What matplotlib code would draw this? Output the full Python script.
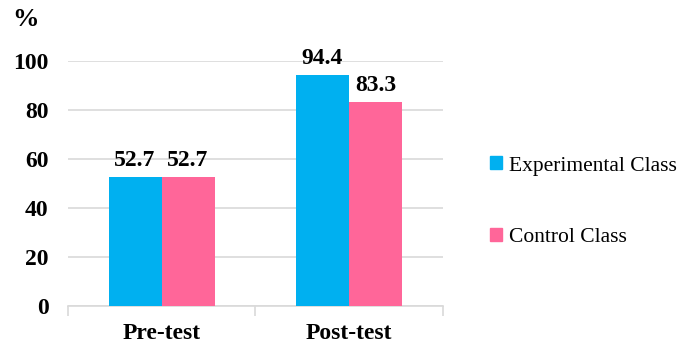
import matplotlib.pyplot as plt
import numpy as np
from matplotlib.patches import Patch

plt.rcParams['font.family'] = ['Liberation Serif', 'DejaVu Serif']

# data
tests = ['Pre-test', 'Post-test']
experimental = [52.7, 94.4]
control = [52.7, 83.3]
series_names = ['Experimental Class', 'Control Class']
colors = ['#00B0F0', '#FF6699']

fig = plt.figure(figsize=(6.79, 3.47), dpi=100)
ax = fig.add_axes([0.100, 0.118, 0.552, 0.706])

x = np.arange(len(tests))
w = 0.283
b1 = ax.bar(x - w / 2, experimental, w, color=colors[0], zorder=3)
b2 = ax.bar(x + w / 2, control, w, color=colors[1], zorder=3)

for bars in (b1, b2):
    for r in bars:
        ax.text(r.get_x() + r.get_width() / 2, r.get_height() + 2.5,
                f'{r.get_height():.1f}', ha='center', va='bottom',
                fontsize=17, fontweight='bold')

ax.set_xlim(-0.5, 1.5)
ax.set_ylim(0, 100)
ax.set_yticks(range(0, 101, 20))
ax.yaxis.grid(True, color='#D9D9D9', linewidth=1.2, zorder=0)
ax.tick_params(axis='y', length=0, pad=14, labelsize=17)
for lab in ax.get_yticklabels():
    lab.set_fontweight('bold')

# category labels, with the boundary ticks
ax.set_xticks([-0.5, 0.5, 1.5])
ax.set_xticklabels([])
ax.tick_params(axis='x', length=7, color='#D9D9D9', width=1.2)
ax.set_xticks(x, minor=True)
ax.set_xticklabels(tests, minor=True, fontsize=17, fontweight='bold')
ax.tick_params(axis='x', which='minor', length=0, pad=12)

for s in ['top', 'right', 'left']:
    ax.spines[s].set_visible(False)
ax.spines['bottom'].set_color('#D9D9D9')
ax.spines['bottom'].set_linewidth(1.2)

fig.text(0.018, 0.945, '%', fontsize=19, fontweight='bold',
         ha='left', va='center')

handles = [Patch(color=c) for c in colors]
fig.legend(handles, series_names, loc='center left',
           bbox_to_anchor=(0.693, 0.418), frameon=False, fontsize=15.5,
           handlelength=0.55, handleheight=0.55, handletextpad=0.35,
           labelspacing=2.45)

fig.savefig('out.png', dpi=100)
